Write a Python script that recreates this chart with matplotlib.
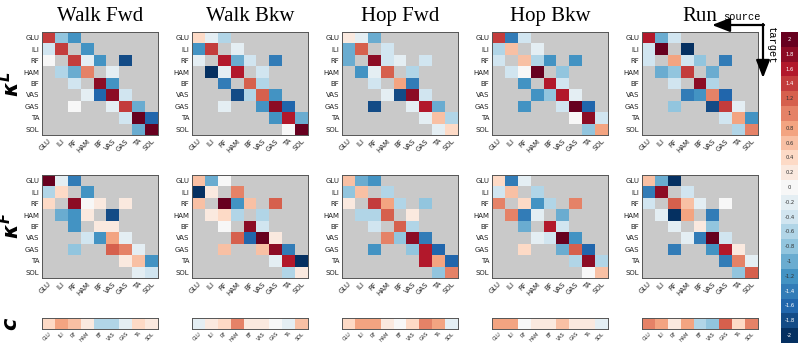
import numpy as np
import matplotlib
matplotlib.use('Agg')
import matplotlib.pyplot as plt

N = np.nan

# THE DATA ********************************************************************

muscles = ['GLU', 'ILI', 'RF', 'HAM', 'BF', 'VAS', 'GAS', 'TA', 'SOL']
tasks = ['Walk Fwd', 'Walk Bkw', 'Hop Fwd', 'Hop Bkw', 'Run']
cbar_levels = [2, 1.8, 1.6, 1.4, 1.2, 1, 0.8, 0.6, 0.4, 0.2, 0,
               -0.2, -0.4, -0.6, -0.8, -1, -1.2, -1.4, -1.6, -1.8, -2]

# kappa^L (rows = target, columns = source)
kL_walk_fwd = [[1.4, -0.8, -1.2, N, N, N, N, N, N],
               [-0.4, 1.4, N, -1.2, N, N, N, N, N],
               [0.0, N, 1.4, -0.2, -1.2, N, -1.8, N, N],
               [N, -0.6, -1.0, 1.0, N, -0.2, N, N, N],
               [N, N, -0.4, N, 1.8, -1.2, N, N, N],
               [N, N, N, -0.2, -1.6, 1.8, -0.4, N, N],
               [N, N, 0.0, N, N, -0.2, 1.4, -1.0, N],
               [N, N, N, N, N, N, -0.4, 2.0, -1.6],
               [N, N, N, N, N, N, N, -1.0, 2.0]]

kL_walk_bkw = [[0.4, -0.2, -0.6, N, N, N, N, N, N],
               [-1.2, 1.4, N, -0.2, N, N, N, N, N],
               [-0.2, N, 1.6, -1.0, -0.4, N, -1.4, N, N],
               [N, -2.0, -0.2, 1.6, N, -0.4, N, N, N],
               [N, N, -1.4, N, 1.2, -0.6, N, N, N],
               [N, N, N, -1.8, -0.6, 1.2, -1.2, N, N],
               [N, N, -0.2, N, N, -1.2, 1.8, -1.6, N],
               [N, N, N, N, N, N, -1.2, 1.6, -1.0],
               [N, N, N, N, N, N, N, 0.0, 2.0]]

kL_hop_fwd = [[0.2, -0.2, -1.0, N, N, N, N, N, N],
              [-1.0, 1.2, N, -0.4, N, N, N, N, N],
              [-1.0, N, 1.8, -0.4, -0.2, N, -0.4, N, N],
              [N, -1.2, -0.2, 1.2, N, -0.6, N, N, N],
              [N, N, -0.4, N, 0.8, -1.4, N, N, N],
              [N, N, N, -0.2, -1.8, 1.8, -0.4, N, N],
              [N, N, -1.8, N, N, -0.2, 1.6, -1.0, N],
              [N, N, N, N, N, N, -0.2, 0.6, -0.6],
              [N, N, N, N, N, N, N, -0.2, 0.4]]

kL_hop_bkw = [[1.4, -1.4, -0.4, N, N, N, N, N, N],
              [-0.6, 0.6, N, -0.2, N, N, N, N, N],
              [-0.4, N, 0.6, -0.6, -1.2, N, -1.2, N, N],
              [N, -0.4, 0.0, 2.0, N, -0.8, N, N, N],
              [N, N, -1.2, N, 1.6, -0.4, N, N, N],
              [N, N, N, -1.2, -0.8, 1.6, -0.2, N, N],
              [N, N, -1.2, N, N, -0.4, 2.0, -1.6, N],
              [N, N, N, N, N, N, 0.0, 1.8, -0.4],
              [N, N, N, N, N, N, N, -0.8, 0.8]]

kL_run = [[1.6, -1.0, -0.4, N, N, N, N, N, N],
          [-0.4, 2.0, N, -2.0, N, N, N, N, N],
          [-0.4, N, 0.8, -0.4, -0.8, N, -1.4, N, N],
          [N, -1.0, -0.8, 1.4, N, -1.0, N, N, N],
          [N, N, -0.4, N, 1.8, -0.6, N, N, N],
          [N, N, N, -1.4, -1.2, 1.0, -1.6, N, N],
          [N, N, -0.8, N, N, -1.8, 1.4, -0.2, N],
          [N, N, N, N, N, N, -0.4, 0.8, -1.2],
          [N, N, N, N, N, N, N, -0.6, 1.0]]

# kappa^F
kF_walk_fwd = [[2.0, -0.2, -1.4, N, N, N, N, N, N],
               [-0.6, 0.4, N, -1.2, N, N, N, N, N],
               [0.4, N, 1.8, 0.0, 0.2, N, 0.2, N, N],
               [N, -1.0, -1.2, 0.2, N, -1.8, N, N, N],
               [N, N, -1.2, N, 0.2, 0.2, N, N, N],
               [N, N, N, -0.4, -1.2, 0.8, -0.2, N, N],
               [N, N, -0.8, N, N, 1.2, 1.0, -0.2, N],
               [N, N, N, N, N, N, 0.2, 0.6, -1.2],
               [N, N, N, N, N, N, N, -0.2, -0.4]]

kF_walk_bkw = [[0.6, -1.0, 0.0, N, N, N, N, N, N],
               [-2.0, 0.2, N, 1.0, N, N, N, N, N],
               [0.6, N, 2.0, -1.2, 0.6, N, 1.2, N, N],
               [N, 0.2, 0.4, -0.6, N, -0.6, N, N, N],
               [N, N, 0.0, N, 1.8, -0.4, N, N, N],
               [N, N, N, 1.2, -1.6, 2.0, 0.2, N, N],
               [N, N, 0.6, N, N, 0.6, 1.8, -1.4, N],
               [N, N, N, N, N, N, -0.2, 1.6, -2.0],
               [N, N, N, N, N, N, N, -0.6, 0.2]]

kF_hop_fwd = [[0.6, -1.0, -1.2, N, N, N, N, N, N],
              [-0.8, 0.6, N, -0.6, N, N, N, N, N],
              [0.2, N, 1.4, 0.8, -0.6, N, -0.8, N, N],
              [N, -0.6, -0.6, 1.2, N, 0.2, N, N, N],
              [N, N, -0.4, N, 1.2, -0.6, N, N, N],
              [N, N, N, 1.0, -0.8, 1.8, -1.4, N, N],
              [N, N, -1.2, N, N, -0.8, 1.6, -1.6, N],
              [N, N, N, N, N, N, 1.6, 0.8, -1.6],
              [N, N, N, N, N, N, N, -0.8, 1.0]]

kF_hop_bkw = [[0.4, -1.4, -0.2, N, N, N, N, N, N],
              [-0.4, 0.6, N, -0.6, N, N, N, N, N],
              [1.0, N, 0.4, -1.2, -0.6, N, 1.0, N, N],
              [N, 1.0, -1.4, -0.2, N, -1.0, N, N, N],
              [N, N, -1.0, N, 1.6, -0.4, N, N, N],
              [N, N, N, -0.2, -0.4, 2.0, -1.2, N, N],
              [N, N, 0.4, N, N, -1.0, 1.2, -1.6, N],
              [N, N, N, N, N, N, -0.6, 1.8, -0.6],
              [N, N, N, N, N, N, N, 0.0, 0.6]]

kF_run = [[0.6, -1.0, -2.0, N, N, N, N, N, N],
          [-1.4, 1.8, N, -0.4, N, N, N, N, N],
          [-0.4, N, 1.2, 0.6, -0.2, N, 0.0, N, N],
          [N, -0.2, -2.0, 0.8, N, -1.4, N, N, N],
          [N, N, -0.2, N, 0.2, -0.8, N, N, N],
          [N, N, N, -0.2, -1.4, 2.0, -0.4, N, N],
          [N, N, -1.4, N, N, -1.2, 1.6, 0.2, N],
          [N, N, N, N, N, N, -1.4, 1.0, -0.2],
          [N, N, N, N, N, N, N, -0.8, 1.2]]

# c vectors
c_walk_fwd = [0.4, 0.8, 0.6, 0.2, -0.6, -0.6, -0.2, 0.4, 0.2]
c_walk_bkw = [-0.2, 0.2, 0.4, 1.0, 0.2, 0.2, 0.0, -0.2, 0.6]
c_hop_fwd = [0.4, 0.8, 0.8, 0.2, 0.0, 0.4, 1.0, 0.8, -0.2]
c_hop_bkw = [0.8, 0.8, 0.0, 0.2, 0.2, 0.6, 0.2, 0.2, -0.2]
c_run = [1.0, 0.8, 0.2, 0.8, -0.6, -0.8, 1.2, 0.4, 1.0]

kL = [kL_walk_fwd, kL_walk_bkw, kL_hop_fwd, kL_hop_bkw, kL_run]
kF = [kF_walk_fwd, kF_walk_bkw, kF_hop_fwd, kF_hop_bkw, kF_run]
cs = [c_walk_fwd, c_walk_bkw, c_hop_fwd, c_hop_bkw, c_run]


# THE CHART *******************************************************************

W, H = 800, 347
cmap = plt.get_cmap('RdBu_r').resampled(21)
cmap.set_bad('#c9c9c9')
vmin, vmax = -2.1, 2.1

fig = plt.figure(figsize=(W / 100, H / 100), dpi=100, facecolor='w')


def px(x0, y0, w, h):
    # pixel box (top-left origin) -> figure fraction
    return [x0 / W, 1 - (y0 + h) / H, w / W, h / H]


def style(ax):
    for s in ax.spines.values():
        s.set_color('#555555')
        s.set_linewidth(0.7)


for i, task in enumerate(tasks):
    x0 = 42 + 150 * i
    for y0, mats in [(32, kL), (175, kF)]:
        ax = fig.add_axes(px(x0, y0, 116, 103))
        ax.imshow(np.array(mats[i], dtype=float), cmap=cmap, vmin=vmin, vmax=vmax,
                  aspect='auto', interpolation='nearest')
        ax.set_xticks(range(9))
        ax.set_xticklabels(muscles, rotation=45, ha='right', rotation_mode='anchor', fontsize=5)
        ax.set_yticks(range(9))
        ax.set_yticklabels(muscles, fontsize=5)
        ax.tick_params(length=0, pad=2, colors='#222222')
        style(ax)
        if y0 == 32:
            ax.set_title(task, fontsize=15, family='Liberation Serif', pad=8)

    axc = fig.add_axes(px(x0, 318, 116, 11))
    axc.imshow(np.array([cs[i]], dtype=float), cmap=cmap, vmin=vmin, vmax=vmax,
               aspect='auto', interpolation='nearest')
    axc.set_xticks(range(9))
    axc.set_xticklabels(muscles, rotation=45, ha='right', rotation_mode='anchor', fontsize=3.5)
    axc.set_yticks([])
    axc.tick_params(length=0, pad=1.5, colors='#222222')
    style(axc)

# Row labels
fig.text(11 / W, 1 - 84 / H, r'$\mathbfit{\kappa}^{\mathbfit{L}}$', rotation=90, fontsize=15,
         ha='center', va='center')
fig.text(11 / W, 1 - 226 / H, r'$\mathbfit{\kappa}^{\mathbfit{F}}$', rotation=90, fontsize=15,
         ha='center', va='center')
fig.text(11 / W, 1 - 324 / H, r'$\mathbfit{c}$', rotation=90, fontsize=15,
         ha='center', va='center')

# Discrete colorbar with labels inside the cells
axcb = fig.add_axes(px(781, 32, 17, 311))
axcb.imshow(np.array(cbar_levels, dtype=float)[:, None], cmap=cmap, vmin=vmin, vmax=vmax,
            aspect='auto', interpolation='nearest')
for n, v in enumerate(cbar_levels):
    axcb.text(0, n, f'{v:g}', ha='center', va='center', fontsize=3.8,
              color='w' if abs(v) >= 1.4 else '#333333')
axcb.set_xticks([])
axcb.set_yticks([])
for s in axcb.spines.values():
    s.set_visible(False)

# source / target arrows
arrow = dict(arrowstyle='-|>,head_length=0.9,head_width=0.35', color='k', lw=1.6,
             shrinkA=0, shrinkB=0, mutation_scale=12)
axcb.annotate('', xy=(712 / W, 1 - 25 / H), xytext=(764 / W, 1 - 25 / H),
              xycoords='figure fraction', textcoords='figure fraction', arrowprops=arrow,
              annotation_clip=False)
axcb.annotate('', xy=(763 / W, 1 - 78 / H), xytext=(763 / W, 1 - 24 / H),
              xycoords='figure fraction', textcoords='figure fraction', arrowprops=arrow,
              annotation_clip=False)
fig.text(742 / W, 1 - 17 / H, 'source', fontsize=7.5, family='Liberation Mono',
         ha='center', va='center')
fig.text(771 / W, 1 - 46 / H, 'target', fontsize=7.5, family='Liberation Mono',
         rotation=-90, ha='center', va='center')

plt.savefig('out.png', dpi=100)
